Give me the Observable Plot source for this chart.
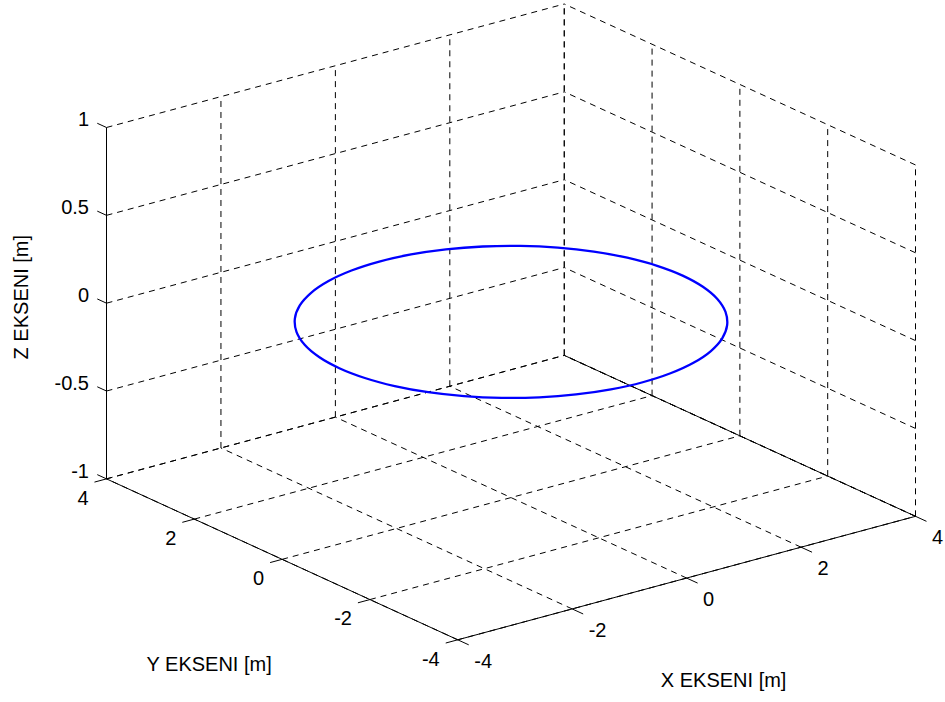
<!DOCTYPE html>
<html><head><meta charset="utf-8">
<script src="https://cdn.jsdelivr.net/npm/d3@7"></script>
<script src="https://cdn.jsdelivr.net/npm/@observablehq/plot@0.6"></script>
<style>body{margin:0;background:#fff}#chart svg{display:block}</style>
</head><body><div id="chart"></div>
<script>
// ---- data ----
const xTicks = [-4, -2, 0, 2, 4];
const yTicks = [-4, -2, 0, 2, 4];
const zTicks = [-1, -0.5, 0, 0.5, 1];
const xTickLabels = ["-4", "-2", "0", "2", "4"];
const yTickLabels = ["-4", "-2", "0", "2", "4"];
const zTickLabels = ["-1", "-0.5", "0", "0.5", "1"];
const xLabel = "X EKSENI [m]";
const yLabel = "Y EKSENI [m]";
const zLabel = "Z EKSENI [m]";
// trajectory (circle of radius 3 at z = 0)
const circleX = [3, 2.954, 2.819, 2.598, 2.298, 1.928, 1.5, 1.026, 0.521, 0, -0.521, -1.026, -1.5, -1.928, -2.298, -2.598, -2.819, -2.954,
                 -3, -2.954, -2.819, -2.598, -2.298, -1.928, -1.5, -1.026, -0.521, 0, 0.521, 1.026, 1.5, 1.928, 2.298, 2.598, 2.819, 2.954];
const circleY = [0, 0.521, 1.026, 1.5, 1.928, 2.298, 2.598, 2.819, 2.954, 3, 2.954, 2.819, 2.598, 2.298, 1.928, 1.5, 1.026, 0.521,
                 0, -0.521, -1.026, -1.5, -1.928, -2.298, -2.598, -2.819, -2.954, -3, -2.954, -2.819, -2.598, -2.298, -1.928, -1.5, -1.026, -0.521];
const circleZ = circleX.map(() => 0);

// ---- 3D view (MATLAB default az = -37.5, el = 30) ----
const xlim = [-4, 4], ylim = [-4, 4], zlim = [-1, 1];
const az = -37.5 * Math.PI / 180, el = 30 * Math.PI / 180;
function P([x, y, z]) {
  const nx = (x - (xlim[0] + xlim[1]) / 2) / (xlim[1] - xlim[0]);
  const ny = (y - (ylim[0] + ylim[1]) / 2) / (ylim[1] - ylim[0]);
  const nz = (z - (zlim[0] + zlim[1]) / 2) / (zlim[1] - zlim[0]);
  const h = Math.cos(az) * nx + Math.sin(az) * ny;
  const v = -Math.sin(el) * Math.sin(az) * nx + Math.sin(el) * Math.cos(az) * ny + Math.cos(el) * nz;
  return [h, v];
}
const corners = [];
for (const x of xlim) for (const y of ylim) for (const z of zlim) corners.push(P([x, y, z]));
const hMax = d3.max(corners, c => Math.abs(c[0]));
const vMax = d3.max(corners, c => Math.abs(c[1]));

const [x0, x1] = xlim, [y0, y1] = ylim, [z0, z1] = zlim;
// dashed grid on the three back planes
const grid = [];
for (const xt of xTicks) grid.push({a: [xt, y0, z0], b: [xt, y1, z0]});
for (const yt of yTicks) grid.push({a: [x0, yt, z0], b: [x1, yt, z0]});
for (const xt of xTicks) grid.push({a: [xt, y1, z0], b: [xt, y1, z1]});
for (const zt of zTicks) grid.push({a: [x0, y1, zt], b: [x1, y1, zt]});
for (const yt of yTicks) grid.push({a: [x1, yt, z0], b: [x1, yt, z1]});
for (const zt of zTicks) grid.push({a: [x1, y0, zt], b: [x1, y1, zt]});
// solid axis lines
const axes = [
  {a: [x0, y1, z0], b: [x0, y1, z1]},
  {a: [x0, y0, z0], b: [x0, y1, z0]},
  {a: [x0, y0, z0], b: [x1, y0, z0]},
  {a: [x1, y0, z0], b: [x1, y1, z0]}
];
// tick marks (outward)
const ticks = [];
for (const zt of zTicks) ticks.push({a: [x0, y1, zt], b: [x0, y1 + 0.21, zt]});
for (const yt of yTicks) ticks.push({a: [x0, yt, z0], b: [x0 - 0.21, yt, z0]});
for (const xt of xTicks) ticks.push({a: [xt, y0, z0], b: [xt, y0 - 0.25, z0]});

const zLab = zTicks.map((t, i) => ({p: [x0, y1, t], s: zTickLabels[i]}));
const yLab = yTicks.map((t, i) => ({p: [x0, t, z0], s: yTickLabels[i]}));
const xLab = xTicks.map((t, i) => ({p: [t, y0, z0], s: xTickLabels[i]}));
const curve = circleX.map((x, i) => P([x, circleY[i], circleZ[i]]));

const seg = (data, opts) => Plot.link(data, {
  x1: d => P(d.a)[0], y1: d => P(d.a)[1], x2: d => P(d.b)[0], y2: d => P(d.b)[1], ...opts
});
const txt = (data, opts) => Plot.text(data, {
  x: d => P(d.p)[0], y: d => P(d.p)[1], text: d => d.s, fontSize: 20, fill: "#000", ...opts
});

const chart = Plot.plot({
  width: 945, height: 702, margin: 0,
  style: {fontFamily: "'Liberation Sans', Arial, Helvetica, sans-serif", background: "#fff"},
  x: {domain: [-hMax, hMax], range: [106, 915], axis: null},
  y: {domain: [-vMax, vMax], range: [639.3, 3.5], axis: null},
  marks: [
    seg(grid, {stroke: "#000", strokeWidth: 1, strokeDasharray: "6,5"}),
    seg(axes, {stroke: "#000", strokeWidth: 1}),
    seg(ticks, {stroke: "#000", strokeWidth: 1}),
    Plot.line(curve, {x: d => d[0], y: d => d[1], curve: "catmull-rom-closed", stroke: "#0000ff", strokeWidth: 2.3}),
    txt(zLab, {textAnchor: "end", dx: -17.5, dy: -7.5}),
    txt(yLab, {textAnchor: "end", dx: -18, dy: 19.5}),
    txt(xLab, {textAnchor: "start", dx: 16.5, dy: 21.5}),
    txt([{p: [x0, y1, (z0 + z1) / 2], s: zLabel}], {rotate: -90, dx: -85, dy: -6}),
    txt([{p: [x0, (y0 + y1) / 2, z0], s: yLabel}], {dx: -73, dy: 105.5}),
    txt([{p: [(x0 + x1) / 2, y0, z0], s: xLabel}], {dx: 37, dy: 102.5})
  ]
});
document.getElementById("chart").appendChild(chart);
</script>
</body></html>
